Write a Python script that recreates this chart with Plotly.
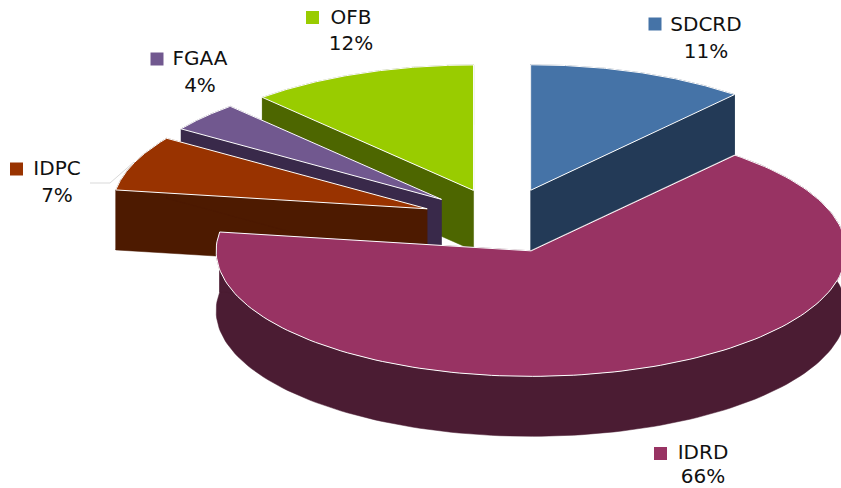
import numpy as np
import plotly.graph_objects as go

# Data (clockwise from 12 o'clock); labels show these rounded to whole percents
categories = ["SDCRD", "IDRD", "IDPC", "FGAA", "OFB"]
shares = [11.2, 66.2, 7.1, 3.8, 11.7]

# Style
top_colors = ["#4573A7", "#983363", "#993300", "#71588F", "#99CC00"]
side_colors = ["#233A57", "#4B1C33", "#4D1A00", "#39294A", "#4D6600"]
label_pos = [(706, 26, 53), (703, 454, 478), (57, 170, 197), (200, 60, 87), (351, 19, 45)]
key_pos = [(655, 24), (660.5, 453.5), (16.5, 169), (157, 59), (312.5, 17.5)]
paint_order = [4, 3, 2, 0, 1]

# Pie geometry in page pixels
CX, CY = 502.7, 220.6
RX, RY = 315.0, 125.5
DEPTH = 60.0
EXPLODE = 0.2574

fig = go.Figure()

edges = np.cumsum([0] + shares) / sum(shares) * 2 * np.pi


def ring(ax, ay, angles):
    return ax + RX * np.sin(angles), ay - RY * np.cos(angles)


for i in paint_order:
    start, end = edges[i], edges[i + 1]
    mid = (start + end) / 2
    ax = CX + EXPLODE * RX * np.sin(mid)
    ay = CY - EXPLODE * RY * np.cos(mid)
    angles = np.linspace(start, end, 160)
    ox, oy = ring(ax, ay, angles)

    # side faces: outer band, then the two radial walls
    walls = [
        (np.r_[ox, ox[::-1]], np.r_[oy, oy[::-1] + DEPTH]),
        (np.r_[ax, ox[0], ox[0], ax], np.r_[ay, oy[0], oy[0] + DEPTH, ay + DEPTH]),
        (np.r_[ax, ox[-1], ox[-1], ax], np.r_[ay, oy[-1], oy[-1] + DEPTH, ay + DEPTH]),
    ]
    for wx, wy in walls:
        fig.add_trace(go.Scatter(x=wx, y=wy, mode="lines", fill="toself",
                                 fillcolor=side_colors[i],
                                 line=dict(color=side_colors[i], width=0.5),
                                 hoverinfo="skip", showlegend=False))
    # top face
    fig.add_trace(go.Scatter(x=np.r_[ax, ox, ax], y=np.r_[ay, oy, ay], mode="lines",
                             fill="toself", fillcolor=top_colors[i],
                             line=dict(color="#FFFFFF", width=1),
                             hoverinfo="skip", showlegend=False))

# leader line of the IDPC label
fig.add_trace(go.Scatter(x=[90, 110, 134], y=[183, 183, 162], mode="lines",
                         line=dict(color="#D9D9D9", width=1),
                         hoverinfo="skip", showlegend=False))

# labels and keys
for i, name in enumerate(categories):
    lx, ly1, ly2 = label_pos[i]
    fig.add_trace(go.Scatter(x=[lx, lx], y=[ly1, ly2], mode="text",
                             text=[name, f"{round(shares[i])}%"],
                             textposition="middle center",
                             textfont=dict(family="DejaVu Sans", size=20, color="#111111"),
                             hoverinfo="skip", showlegend=False))
    fig.add_trace(go.Scatter(x=[key_pos[i][0]], y=[key_pos[i][1]], mode="markers",
                             marker=dict(symbol="square", size=13, color=top_colors[i]),
                             hoverinfo="skip", showlegend=False))

fig.update_layout(
    width=841, height=488, margin=dict(l=0, r=0, t=0, b=0),
    paper_bgcolor="white", plot_bgcolor="white", showlegend=False,
    xaxis=dict(range=[0, 841], visible=False, fixedrange=True),
    yaxis=dict(range=[488, 0], visible=False, fixedrange=True),
)
fig.write_html("out.html", config={"displayModeBar": False},
               post_script="document.body.style.margin='0';document.body.style.overflow='hidden';")
